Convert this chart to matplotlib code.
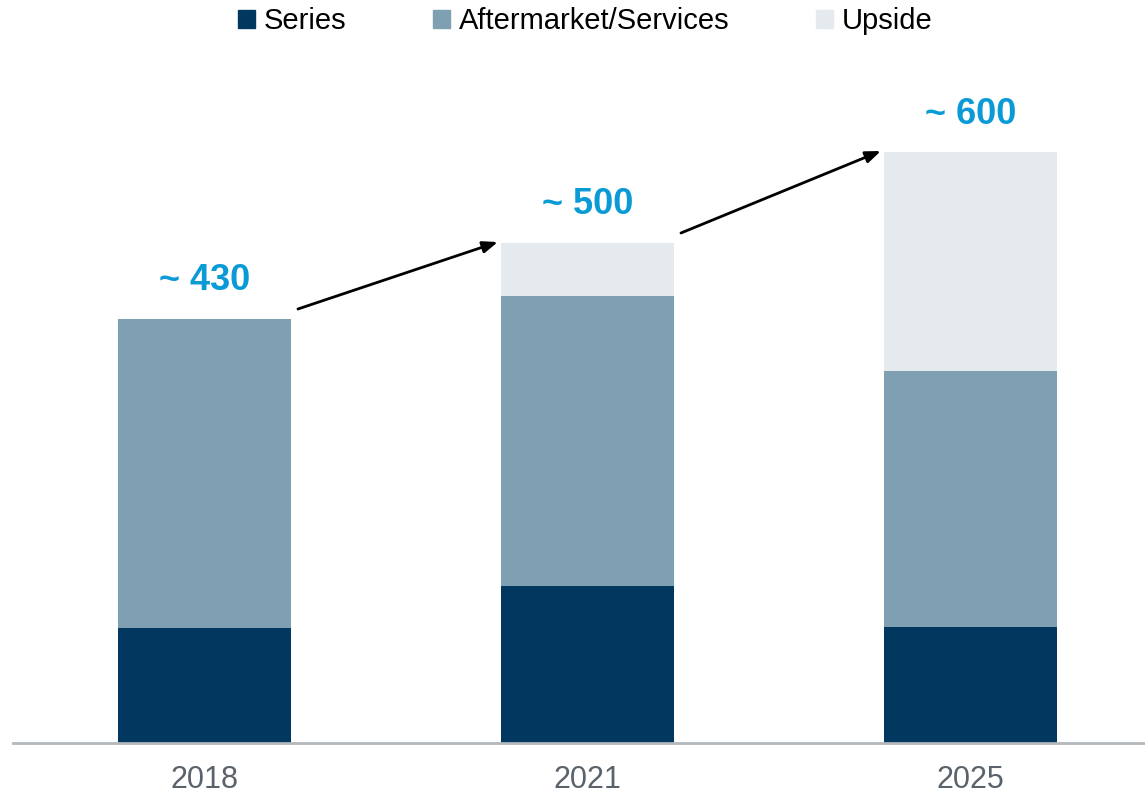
import matplotlib
matplotlib.use("Agg")
import matplotlib.pyplot as plt
from matplotlib.patches import Patch

years = ["2018", "2021", "2025"]
series = [115, 157, 116]
aftermarket = [309, 290, 256]
upside = [0, 53, 219]
totals_labels = ["~ 430", "~ 500", "~ 600"]

c_series = "#02385f"
c_after = "#7f9fb2"
c_up = "#e5eaef"
c_lab = "#0a9ad6"

plt.rcParams['font.family'] = ['Liberation Sans', 'DejaVu Sans']

fig = plt.figure(figsize=(11.45, 7.96), dpi=100)
ax = fig.add_axes([13/1145, 53/796, (1145-13)/1145, (743-40)/796])

x = list(range(len(years)))
w = 0.452
ax.bar(x, series, w, color=c_series, label="Series")
ax.bar(x, aftermarket, w, bottom=series, color=c_after, label="Aftermarket/Services")
bot2 = [a + b for a, b in zip(series, aftermarket)]
ax.bar(x, upside, w, bottom=bot2, color=c_up, label="Upside")
tops = [a + b for a, b in zip(bot2, upside)]

for i, t in enumerate(tops):
    ax.text(x[i], t + 38, totals_labels[i], ha="center", va="center",
            fontsize=26, fontweight="bold", color=c_lab)

# arrows between bars
for i in range(len(x) - 1):
    x0 = x[i] + w / 2 + 0.018
    x1 = x[i + 1] - w / 2 - 0.008
    y0 = tops[i] + 10
    y1 = tops[i + 1] + 1
    ax.annotate("", xy=(x1, y1), xytext=(x0, y0),
                arrowprops=dict(arrowstyle="-|>,head_length=0.9,head_width=0.35",
                                color="black", lw=2, shrinkA=0, shrinkB=0))

ax.set_xlim(-0.5, (1145 - 204.5) / 383)
ax.set_ylim(0, 703)
for s in ["top", "right", "left"]:
    ax.spines[s].set_visible(False)
ax.spines["bottom"].set_color("#b3b8bd")
ax.spines["bottom"].set_linewidth(2)
ax.set_yticks([])
ax.set_xticks(x)
ax.set_xticklabels(years, fontsize=22, color="#5a636b")
ax.tick_params(axis="x", length=0, pad=16)

handles = [Patch(color=c_series, label="Series"),
           Patch(color=c_after, label="Aftermarket/Services"),
           Patch(color=c_up, label="Upside")]
fig.legend(handles=handles, loc="center", bbox_to_anchor=(0.511, 0.973), ncol=3,
           frameon=False, fontsize=21, handlelength=0.6, handleheight=0.6,
           handletextpad=0.3, columnspacing=2.95, borderaxespad=0)

fig.savefig("out.png", dpi=100)
